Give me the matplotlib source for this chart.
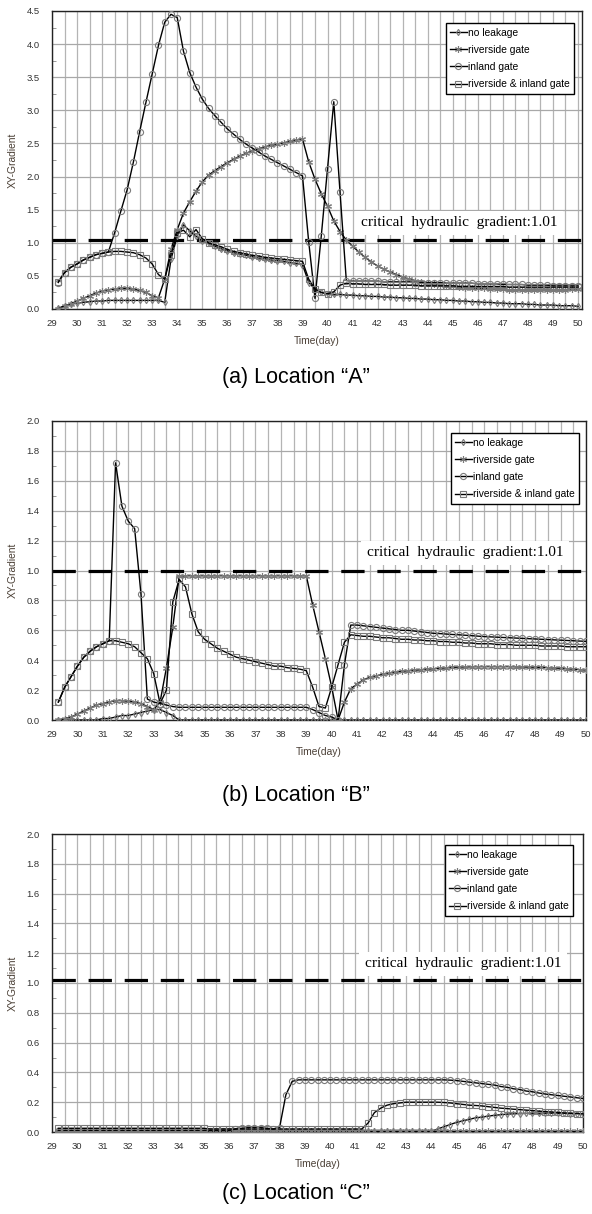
import numpy as np
import matplotlib
matplotlib.use("Agg")
import matplotlib.pyplot as plt
from matplotlib.ticker import MultipleLocator, FormatStrFormatter
from matplotlib.lines import Line2D

# ---------------- data ----------------
time_day = np.arange(29.25, 50.001, 0.25)   # 84 samples, every 0.25 day

series_names = ["no leakage", "riverside gate", "inland gate", "riverside & inland gate"]

# ---- Location A ----
no_leak_a = [0.01, 0.05, 0.07, 0.09, 0.10, 0.11, 0.12, 0.12, 0.13, 0.13, 0.13, 0.13,
             0.13, 0.13, 0.13, 0.13, 0.13, 0.10, 0.75, 1.10, 1.27, 1.18, 1.10, 1.03,
             0.99, 0.95, 0.91, 0.88, 0.85, 0.83, 0.81, 0.79, 0.77, 0.76, 0.74, 0.73,
             0.72, 0.70, 0.69, 0.67, 0.40, 0.30, 0.25, 0.23, 0.22, 0.22, 0.21, 0.21,
             0.20, 0.20, 0.19, 0.19, 0.18, 0.18, 0.17, 0.17, 0.16, 0.16, 0.15, 0.15,
             0.14, 0.14, 0.13, 0.13, 0.12, 0.12, 0.11, 0.11, 0.10, 0.10, 0.09, 0.09,
             0.08, 0.08, 0.08, 0.07, 0.07, 0.06, 0.06, 0.06, 0.05, 0.05, 0.05, 0.04]
riverside_a = [0.00, 0.04, 0.08, 0.12, 0.16, 0.20, 0.24, 0.27, 0.29, 0.30, 0.31, 0.31,
               0.30, 0.28, 0.25, 0.20, 0.17, 0.45, 0.90, 1.20, 1.45, 1.62, 1.78, 1.92,
               2.02, 2.09, 2.15, 2.21, 2.26, 2.31, 2.35, 2.39, 2.42, 2.45, 2.47, 2.49,
               2.51, 2.53, 2.55, 2.57, 2.22, 1.96, 1.74, 1.55, 1.33, 1.17, 1.04, 0.95,
               0.86, 0.78, 0.71, 0.65, 0.60, 0.56, 0.52, 0.48, 0.45, 0.43, 0.41, 0.39,
               0.37, 0.36, 0.35, 0.34, 0.33, 0.32, 0.32, 0.31, 0.31, 0.30, 0.30, 0.30,
               0.29, 0.29, 0.29, 0.29, 0.29, 0.29, 0.29, 0.29, 0.29, 0.29, 0.30, 0.30]
inland_a = [0.40, 0.55, 0.63, 0.68, 0.74, 0.78, 0.82, 0.84, 0.86, 1.15, 1.48, 1.80,
            2.22, 2.68, 3.12, 3.55, 3.98, 4.33, 4.45, 4.40, 3.89, 3.57, 3.35, 3.17,
            3.03, 2.92, 2.82, 2.72, 2.64, 2.56, 2.49, 2.43, 2.37, 2.31, 2.26, 2.21,
            2.16, 2.11, 2.06, 2.01, 1.01, 0.16, 1.10, 2.12, 3.13, 1.76, 0.43, 0.42,
            0.42, 0.42, 0.42, 0.42, 0.41, 0.41, 0.41, 0.41, 0.41, 0.40, 0.40, 0.40,
            0.40, 0.40, 0.39, 0.39, 0.39, 0.39, 0.39, 0.38, 0.38, 0.38, 0.38, 0.37,
            0.37, 0.37, 0.37, 0.36, 0.36, 0.36, 0.36, 0.35, 0.35, 0.35, 0.35, 0.35]
both_a = [0.41, 0.55, 0.63, 0.68, 0.74, 0.78, 0.82, 0.84, 0.86, 0.87, 0.87, 0.86,
          0.85, 0.82, 0.77, 0.68, 0.52, 0.45, 0.82, 1.15, 1.19, 1.09, 1.20, 1.06,
          1.00, 0.97, 0.94, 0.90, 0.87, 0.85, 0.83, 0.81, 0.80, 0.78, 0.77, 0.76,
          0.75, 0.74, 0.73, 0.72, 0.45, 0.30, 0.25, 0.23, 0.26, 0.36, 0.39, 0.38,
          0.38, 0.37, 0.37, 0.37, 0.37, 0.36, 0.36, 0.36, 0.36, 0.36, 0.35, 0.35,
          0.35, 0.35, 0.35, 0.35, 0.34, 0.34, 0.34, 0.34, 0.34, 0.34, 0.34, 0.34,
          0.33, 0.33, 0.33, 0.33, 0.33, 0.33, 0.33, 0.33, 0.33, 0.33, 0.33, 0.33]

# ---- Location B ----
no_leak_b = [0.00, 0.00, 0.00, 0.00, 0.00, 0.00, 0.00, 0.01, 0.01, 0.02, 0.03, 0.03,
             0.04, 0.05, 0.06, 0.07, 0.07, 0.05, 0.03, 0.00] + [0.0] * 64
riverside_b = [0.00, 0.01, 0.02, 0.04, 0.06, 0.08, 0.10, 0.11, 0.12, 0.13, 0.13, 0.125,
               0.12, 0.11, 0.09, 0.07, 0.12, 0.35, 0.62, 0.96] + [0.965] * 20 + \
              [0.77, 0.59, 0.41, 0.22, 0.00, 0.12, 0.21, 0.24,
               0.27, 0.285, 0.295, 0.305, 0.315, 0.32, 0.325, 0.33,
               0.333, 0.336, 0.34, 0.343, 0.346, 0.349, 0.352, 0.354,
               0.355, 0.356, 0.357, 0.357, 0.357, 0.357, 0.357, 0.357,
               0.356, 0.355, 0.354, 0.353, 0.352, 0.35, 0.348, 0.346,
               0.343, 0.34, 0.337, 0.334]
inland_b = [0.12, 0.22, 0.29, 0.36, 0.42, 0.46, 0.49, 0.51, 0.53, 1.72, 1.43, 1.33,
            1.28, 0.84, 0.14, 0.12, 0.11, 0.10, 0.09, 0.085] + [0.085] * 20 + \
           [0.07, 0.05, 0.03, 0.02, 0.00, 0.37, 0.635, 0.635,
            0.63, 0.625, 0.62, 0.615, 0.61, 0.605, 0.60, 0.60,
            0.595, 0.59, 0.585, 0.58, 0.578, 0.575, 0.572, 0.57,
            0.567, 0.564, 0.561, 0.558, 0.556, 0.554, 0.552, 0.55,
            0.548, 0.546, 0.544, 0.542, 0.54, 0.538, 0.536, 0.534,
            0.532, 0.53, 0.528, 0.526]
both_b = [0.12, 0.22, 0.29, 0.36, 0.42, 0.46, 0.49, 0.51, 0.53, 0.53, 0.52, 0.51,
          0.49, 0.45, 0.41, 0.31, 0.11, 0.20, 0.79, 0.94, 0.89, 0.71, 0.59, 0.54,
          0.51, 0.48, 0.46, 0.44, 0.42, 0.41, 0.40, 0.39, 0.38, 0.37, 0.36, 0.36,
          0.35, 0.345, 0.34, 0.33, 0.22, 0.09, 0.08, 0.22, 0.37, 0.52, 0.57, 0.565,
          0.56, 0.56, 0.555, 0.55, 0.55, 0.545, 0.54, 0.54, 0.535, 0.535, 0.53, 0.53,
          0.525, 0.525, 0.52, 0.52, 0.515, 0.515, 0.51, 0.51, 0.51, 0.505, 0.505, 0.505,
          0.50, 0.50, 0.50, 0.50, 0.495, 0.495, 0.495, 0.495, 0.49, 0.49, 0.49, 0.49]

# ---- Location C ----
no_leak_c = [0.005] * 60 + \
            [0.02, 0.035, 0.05, 0.065, 0.075, 0.085, 0.095, 0.10,
             0.107, 0.112, 0.116, 0.12, 0.122, 0.124, 0.125, 0.126,
             0.126, 0.126, 0.126, 0.125, 0.125, 0.124, 0.124, 0.123]
riverside_c = [0.004] * 84
inland_c = [0.01] * 28 + [0.02, 0.025, 0.03, 0.03, 0.03, 0.025, 0.02, 0.03, 0.25, 0.34, 0.35] + \
           [0.35] * 23 + \
           [0.348, 0.345, 0.34, 0.335, 0.33, 0.325, 0.32, 0.315, 0.305, 0.30, 0.29, 0.285,
            0.275, 0.27, 0.262, 0.255, 0.25, 0.245, 0.24, 0.235, 0.23, 0.225]
both_c = [0.025] * 24 + [0.02] * 25 + \
         [0.06, 0.13, 0.16, 0.18, 0.19, 0.195, 0.20, 0.20, 0.20, 0.20, 0.20, 0.20,
          0.198, 0.195, 0.19, 0.185, 0.18, 0.178, 0.175, 0.17, 0.165, 0.16, 0.157, 0.153,
          0.15, 0.147, 0.144, 0.14, 0.137, 0.134, 0.131, 0.128, 0.126, 0.124, 0.122]

critical_label = "critical  hydraulic  gradient:1.01"
critical_line = [1.04, 1.00, 1.02]
captions = ["(a) Location \u201cA\u201d", "(b) Location \u201cB\u201d", "(c) Location \u201cC\u201d"]
y_max = [4.5, 2.0, 2.0]
y_major = [0.5, 0.2, 0.2]
y_minor = [0.25, 0.1, 0.1]
x_right = [50.16, 50.0, 50.0]
text_y = [1.30, 1.12, 1.13]

panels = [
    [no_leak_a, riverside_a, inland_a, both_a],
    [no_leak_b, riverside_b, inland_b, both_b],
    [no_leak_c, riverside_c, inland_c, both_c],
]

# ---------------- style ----------------
W, H = 592, 1214
axes_px = [(52, 582, 11, 309), (52, 586, 421, 720), (52, 583, 834, 1132)]
legend_px = [(574, 23), (579, 433), (573, 845)]
caption_y = [378, 795, 1193]

markers = ["d", (6, 2, 0), "o", "s"]
msizes = [3.2, 5.0, 4.4, 4.6]
mcolor = "#7a7a7a"

tick_font = ["Liberation Sans", "DejaVu Sans"]
narrow = ["Liberation Sans Narrow", "Liberation Sans", "DejaVu Sans"]

fig = plt.figure(figsize=(W / 100, H / 100), dpi=100)

for k in range(3):
    l, r, t, b = axes_px[k]
    ax = fig.add_axes([l / W, 1 - b / H, (r - l) / W, (b - t) / H])
    ax.set_xlim(29, x_right[k])
    ax.set_ylim(0, y_max[k])
    ax.xaxis.set_major_locator(MultipleLocator(1))
    ax.xaxis.set_minor_locator(MultipleLocator(0.5))
    ax.yaxis.set_major_locator(MultipleLocator(y_major[k]))
    ax.yaxis.set_minor_locator(MultipleLocator(y_minor[k]))
    ax.yaxis.set_major_formatter(FormatStrFormatter("%.1f"))
    ax.grid(True, which="major", axis="y", color="#a8a8a8", lw=0.9, zorder=0)
    ax.grid(True, which="both", axis="x", color="#b4b4b4", lw=0.9, zorder=0)
    ax.set_axisbelow(True)
    ax.tick_params(axis="both", which="major", length=0, labelsize=6.8,
                   labelcolor="#333333")
    ax.tick_params(axis="x", pad=7)
    ax.tick_params(axis="y", pad=9)
    ax.tick_params(axis="y", which="minor", length=3, direction="in", color="#888888")
    ax.tick_params(axis="x", which="minor", length=0)
    for lab in ax.get_xticklabels() + ax.get_yticklabels():
        lab.set_family(tick_font)
    for s in ax.spines.values():
        s.set_color("#222222")
        s.set_linewidth(1.0)

    # critical gradient dashed line
    ax.axhline(critical_line[k], color="black", lw=2.3, dashes=(7.3, 4.0), zorder=2)
    ax.text(45.25, text_y[k], critical_label, family=["Liberation Serif", "DejaVu Serif"],
            fontsize=11, ha="center", va="center", zorder=3,
            bbox=dict(facecolor="white", edgecolor="none", pad=4))

    for j, vals in enumerate(panels[k]):
        ax.plot(time_day, vals, color="black", lw=1.0, marker=markers[j],
                ms=msizes[j], mfc="none", mec=mcolor, mew=0.8, zorder=4,
                label=series_names[j])

    handles = [Line2D([], [], color="black", lw=1.0, marker=markers[j], ms=msizes[j],
                      mfc="none", mec=mcolor, mew=0.8) for j in range(4)]
    lx, ly = legend_px[k]
    leg = ax.legend(handles, series_names, loc="upper right",
                    bbox_to_anchor=((lx - l) / (r - l), (b - ly) / (b - t)),
                    borderaxespad=0, numpoints=1, handlelength=1.6, handletextpad=0.1,
                    labelspacing=0.7, borderpad=0.45, fancybox=False, framealpha=1,
                    edgecolor="black", prop=dict(family=narrow, size=7.4))
    leg.get_frame().set_linewidth(1.0)
    leg.set_zorder(6)

    ax.set_ylabel("XY-Gradient", fontsize=7.4, color="#4a3f35", family=tick_font)
    ax.yaxis.set_label_coords(-0.065, 0.5)
    ax.set_xlabel("Time(day)", fontsize=7.4, color="#4a3f35", family=tick_font)
    ax.xaxis.set_label_coords(0.5, -0.09)

    fig.text(0.5, 1 - caption_y[k] / H, captions[k], ha="center", va="center",
             fontsize=15.5, family=narrow, color="black")

fig.savefig("out.png", dpi=100)
